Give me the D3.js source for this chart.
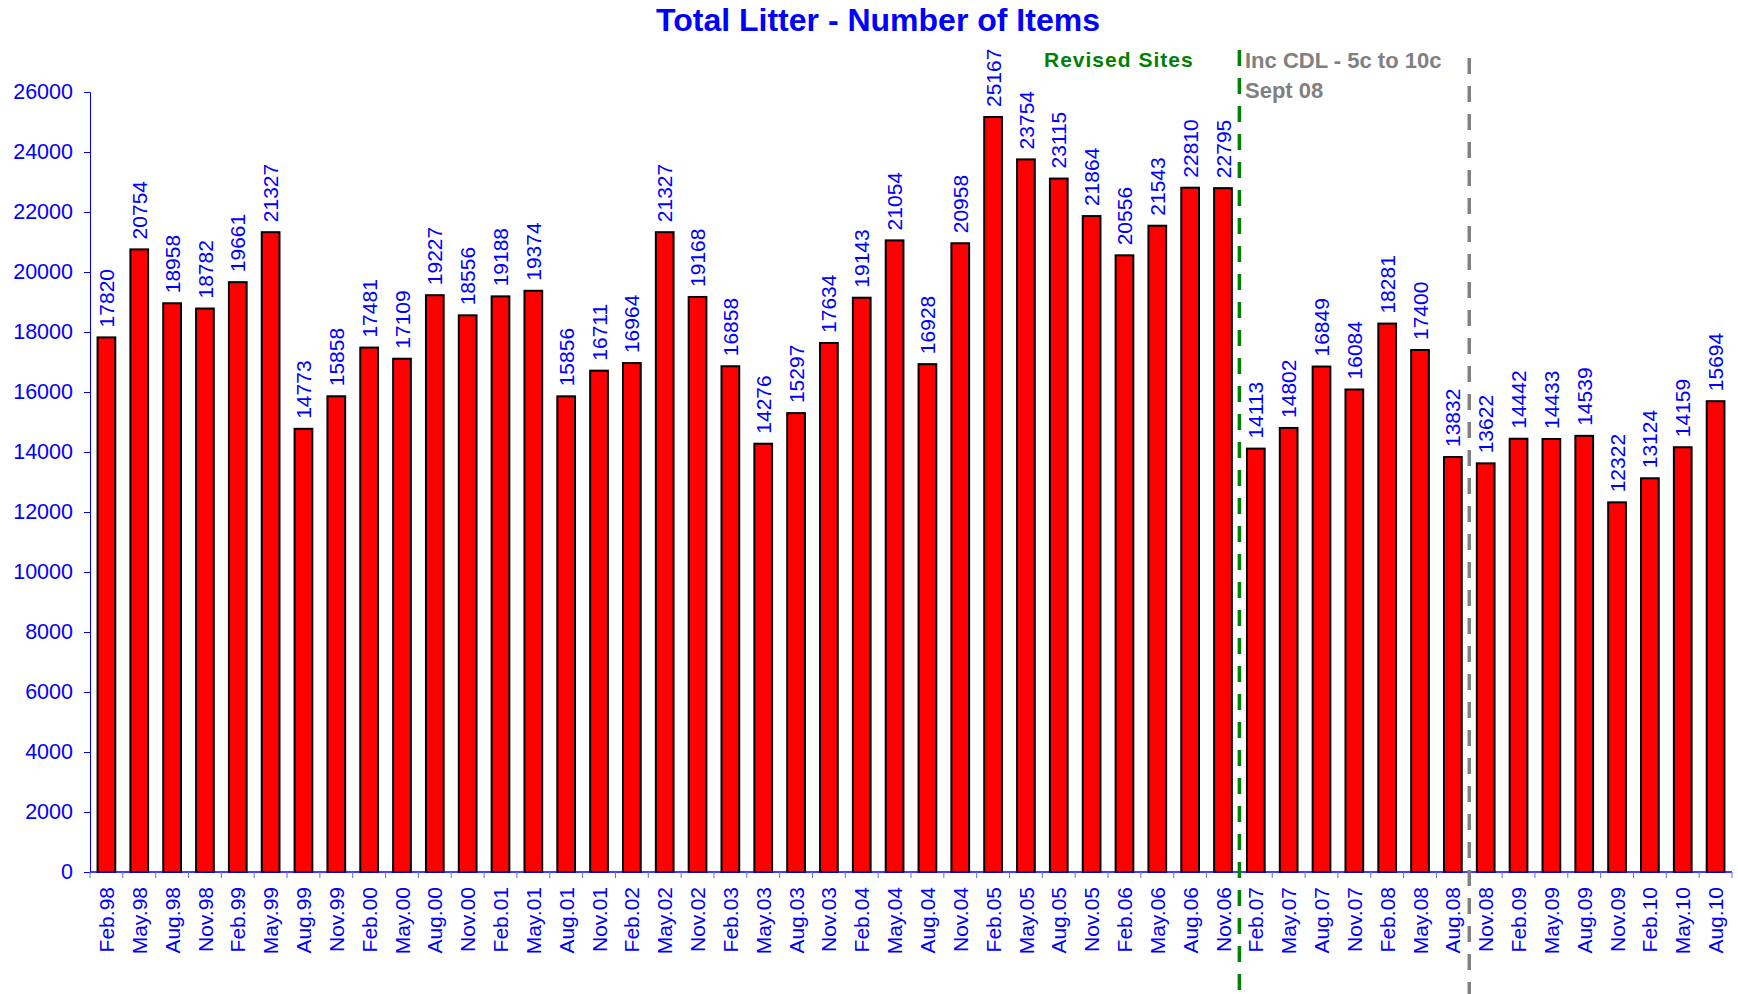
<!DOCTYPE html>
<html>
<head>
<meta charset="utf-8">
<script src="https://cdn.jsdelivr.net/npm/d3@7"></script>
<style>
  body { margin: 0; background: #fff; }
  text { font-family: "Liberation Sans", Arial, sans-serif; }
</style>
</head>
<body>
<div id="chart"></div>
<script>
// survey periods
const periods = [
  "Feb.98", "May.98", "Aug.98", "Nov.98",
  "Feb.99", "May.99", "Aug.99", "Nov.99",
  "Feb.00", "May.00", "Aug.00", "Nov.00",
  "Feb.01", "May.01", "Aug.01", "Nov.01",
  "Feb.02", "May.02", "Nov.02",
  "Feb.03", "May.03", "Aug.03", "Nov.03",
  "Feb.04", "May.04", "Aug.04", "Nov.04",
  "Feb.05", "May.05", "Aug.05", "Nov.05",
  "Feb.06", "May.06", "Aug.06", "Nov.06",
  "Feb.07", "May.07", "Aug.07", "Nov.07",
  "Feb.08", "May.08", "Aug.08", "Nov.08",
  "Feb.09", "May.09", "Aug.09", "Nov.09",
  "Feb.10", "May.10", "Aug.10"
];

// total number of items
const items = [
  17820, 20754, 18958, 18782,
  19661, 21327, 14773, 15858,
  17481, 17109, 19227, 18556,
  19188, 19374, 15856, 16711,
  16964, 21327, 19168,
  16858, 14276, 15297, 17634,
  19143, 21054, 16928, 20958,
  25167, 23754, 23115, 21864,
  20556, 21543, 22810, 22795,
  14113, 14802, 16849, 16084,
  18281, 17400, 13832, 13622,
  14442, 14433, 14539, 12322,
  13124, 14159, 15694
];

const yTicks = [0, 2000, 4000, 6000, 8000, 10000, 12000, 14000, 16000, 18000, 20000, 22000, 24000, 26000];

// marker lines: placed before the given period
const markers = [
  { before: "Feb.07", color: "#008000" },
  { before: "Nov.08", color: "#808080" }
];

const W = 1738, H = 994;
const margin = { top: 92, right: 6, bottom: 122, left: 90 };

const svg = d3.select("#chart")
  .append("svg")
  .attr("width", W)
  .attr("height", H);

const x = d3.scaleBand()
  .domain(periods)
  .range([margin.left, W - margin.right])
  .paddingInner(0.46)
  .paddingOuter(0.23);

const y = d3.scaleLinear()
  .domain([0, 26000])
  .range([H - margin.bottom, margin.top]);

const blue = "#0000ff";

// y axis
const yAxis = svg.append("g")
  .attr("transform", `translate(${margin.left},0)`)
  .call(d3.axisLeft(y).tickValues(yTicks).tickSize(6).tickPadding(11).tickFormat(d3.format("d")));
yAxis.selectAll("line").attr("stroke", blue);
yAxis.select(".domain").attr("stroke", blue);
yAxis.selectAll("text")
  .attr("fill", blue)
  .style("font-size", "21.5px");

// bars
svg.selectAll("rect.bar")
  .data(items)
  .enter()
  .append("rect")
  .attr("class", "bar")
  .attr("x", (d, i) => x(periods[i]))
  .attr("y", d => y(d))
  .attr("width", x.bandwidth())
  .attr("height", d => y(0) - y(d))
  .attr("fill", "#ff0000")
  .attr("stroke", "#000")
  .attr("stroke-width", 2);

// x axis: ticks sit between the bars
const step = x.step();
const x0 = x(periods[0]) - x.paddingOuter() * step;
const xAxis = svg.append("g")
  .attr("transform", `translate(0,${y(0)})`);
xAxis.append("line")
  .attr("x1", margin.left).attr("x2", W - margin.right)
  .attr("y1", 0).attr("y2", 0)
  .attr("stroke", blue).attr("stroke-width", 1.5);
xAxis.selectAll("line.tick")
  .data(d3.range(periods.length + 1))
  .enter()
  .append("line")
  .attr("class", "tick")
  .attr("x1", i => x0 + i * step).attr("x2", i => x0 + i * step)
  .attr("y1", 0).attr("y2", 6)
  .attr("stroke", "#6666ff");
xAxis.selectAll("text")
  .data(periods)
  .enter()
  .append("text")
  .attr("transform", d => `translate(${x(d) + x.bandwidth() / 2},15) rotate(-90)`)
  .attr("dy", "0.36em")
  .attr("text-anchor", "end")
  .attr("fill", blue)
  .style("font-size", "21px")
  .text(d => d);

// value labels
svg.selectAll("text.val")
  .data(items)
  .enter()
  .append("text")
  .attr("class", "val")
  .attr("transform", (d, i) => `translate(${x(periods[i]) + x.bandwidth() / 2},${y(d) - 10}) rotate(-90)`)
  .attr("dy", "0.36em")
  .attr("text-anchor", "start")
  .attr("fill", blue)
  .style("font-size", "21px")
  .text(d => d);

// dashed marker lines
markers.forEach((m, k) => {
  const mx = x(m.before) - x.paddingInner() * step / 2;
  svg.append("line")
    .attr("x1", mx).attr("x2", mx)
    .attr("y1", k === 0 ? 50 : 58).attr("y2", H)
    .attr("stroke", m.color)
    .attr("stroke-width", 3.5)
    .attr("stroke-dasharray", "16,12");
});

// title
svg.append("text")
  .attr("x", 878)
  .attr("y", 31)
  .attr("text-anchor", "middle")
  .attr("fill", blue)
  .style("font-size", "32px")
  .style("font-weight", "bold")
  .text("Total Litter - Number of Items");

// annotations
svg.append("text")
  .attr("x", 1044)
  .attr("y", 67)
  .attr("fill", "#008000")
  .style("font-size", "21px")
  .style("font-weight", "bold")
  .style("letter-spacing", "1px")
  .text("Revised Sites");

svg.append("text")
  .attr("x", 1245)
  .attr("y", 68)
  .attr("fill", "#808080")
  .style("font-size", "22px")
  .style("font-weight", "bold")
  .text("Inc CDL - 5c to 10c");

svg.append("text")
  .attr("x", 1245)
  .attr("y", 98)
  .attr("fill", "#808080")
  .style("font-size", "22px")
  .style("font-weight", "bold")
  .text("Sept 08");
</script>
</body>
</html>
